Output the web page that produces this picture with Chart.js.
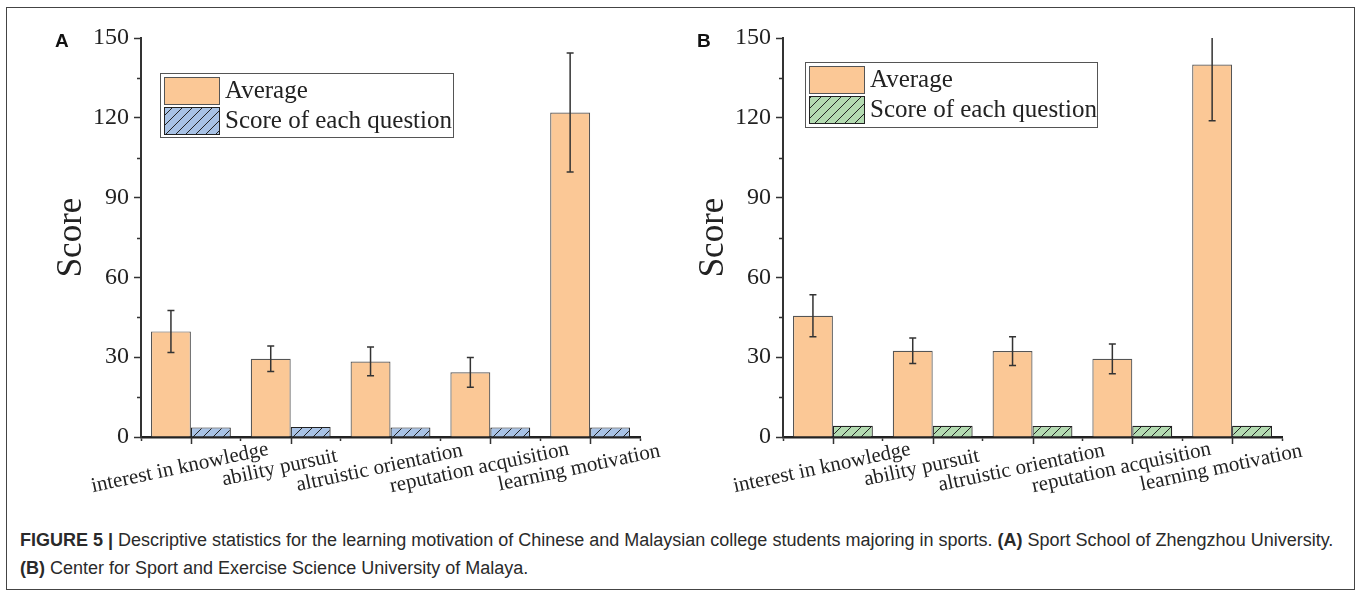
<!DOCTYPE html>
<html>
<head>
<meta charset="utf-8">
<script src="https://cdn.jsdelivr.net/npm/chart.js@4.4.1/dist/chart.umd.min.js"></script>
<style>
  body { margin: 0; background: #fff; width: 1357px; height: 592px; position: relative; overflow: hidden; }
  canvas { position: absolute; top: 0; }
  #chartA { left: 0; }
  #chartB { left: 678px; }
  .tag { position: absolute; top: 31px; font: bold 19px 'Liberation Sans', Arial, sans-serif; line-height: 1; color: #111; }
  #frame { position: absolute; left: 6px; top: 7px; width: 1347px; height: 581px; border: 1px solid #444; pointer-events: none; }
  .caption { position: absolute; left: 20px; font-family: 'Liberation Sans', Arial, sans-serif; font-size: 18px; line-height: 20px; color: #2a2a2a; white-space: nowrap; }
</style>
</head>
<body>
<canvas id="chartA" width="678" height="505"></canvas>
<canvas id="chartB" width="679" height="505"></canvas>
<div class="tag" style="left:55px">A</div>
<div class="tag" style="left:697px">B</div>
<div class="caption" style="top:530px"><b>FIGURE 5 |</b> Descriptive statistics for the learning motivation of Chinese and Malaysian college students majoring in sports. <b>(A)</b> Sport School of Zhengzhou University.</div>
<div class="caption" style="top:558px"><b>(B)</b> Center for Sport and Exercise Science University of Malaya.</div>
<div id="frame"></div>

<script>
const categories = ['interest in knowledge', 'ability pursuit', 'altruistic orientation', 'reputation acquisition', 'learning motivation']
const seriesNames = ['Average', 'Score of each question']
const yTickValues = [0, 30, 60, 90, 120, 150]

// panel A - Zhengzhou
const averageA = [39.7, 29.4, 28.4, 24.3, 122.0]
const errorA = [7.9, 4.8, 5.4, 5.6, 22.4]
const perQuestionA = [3.6, 3.8, 3.6, 3.6, 3.6]

// panel B - Malaya
const averageB = [45.6, 32.4, 32.3, 29.4, 140.0]
const errorB = [7.9, 4.8, 5.4, 5.6, 21.1]
const perQuestionB = [4.2, 4.2, 4.1, 4.2, 4.2]

const ORANGE = '#fbc896'
const BLUE = '#a8c2e5'
const GREEN = '#b3dbb1'
const INK = '#222'
const SERIF = "'Liberation Serif', 'Times New Roman', serif"

function hatch(bg) {
    const c = document.createElement('canvas')
    c.width = 10
    c.height = 10
    const g = c.getContext('2d')
    g.fillStyle = bg
    g.fillRect(0, 0, 10, 10)
    g.strokeStyle = '#222'
    g.lineWidth = 1
    g.beginPath()
    g.moveTo(-1, 11); g.lineTo(11, -1)
    g.moveTo(-6, 6); g.lineTo(6, -6)
    g.moveTo(4, 16); g.lineTo(16, 4)
    g.stroke()
    return g.createPattern(c, 'repeat')
}

const decor = {
    id: 'decor',
    afterDatasetsDraw(chart, args, o) {
        // error bars on the Average series
        const ctx = chart.ctx
        const y = chart.scales.y
        const ca = chart.chartArea
        ctx.save()
        ctx.beginPath()
        ctx.rect(ca.left, ca.top, ca.right - ca.left, ca.bottom - ca.top)
        ctx.clip()
        ctx.strokeStyle = '#333'
        ctx.lineWidth = 1.5
        chart.getDatasetMeta(0).data.forEach((bar, i) => {
            const v = chart.data.datasets[0].data[i]
            const e = o.errors[i]
            const top = y.getPixelForValue(v + e)
            const bot = y.getPixelForValue(v - e)
            ctx.beginPath()
            ctx.moveTo(bar.x, top); ctx.lineTo(bar.x, bot)
            ctx.moveTo(bar.x - 3.5, top); ctx.lineTo(bar.x + 3.5, top)
            ctx.moveTo(bar.x - 3.5, bot); ctx.lineTo(bar.x + 3.5, bot)
            ctx.stroke()
        })
        ctx.restore()
    },
    afterDraw(chart, args, o) {
        const ctx = chart.ctx
        const x = chart.scales.x
        const y = chart.scales.y
        const ca = chart.chartArea
        ctx.save()
        ctx.strokeStyle = '#333'
        ctx.lineWidth = 1.5
        ctx.beginPath()
        // minor y ticks
        for (let i = 0; i < yTickValues.length - 1; i++) {
            const py = Math.round(y.getPixelForValue((yTickValues[i] + yTickValues[i + 1]) / 2)) + 0.5
            ctx.moveTo(ca.left - 4, py); ctx.lineTo(ca.left, py)
        }
        // ticks at category centres
        categories.forEach((c, i) => {
            const px = Math.round(x.getPixelForValue(i)) + 0.5
            ctx.moveTo(px, ca.bottom); ctx.lineTo(px, ca.bottom + 7)
        })
        ctx.stroke()

        // slanted category labels
        ctx.fillStyle = INK
        ctx.font = '21px ' + SERIF
        ctx.textAlign = 'center'
        ctx.textBaseline = 'middle'
        categories.forEach((c, i) => {
            ctx.save()
            ctx.translate(x.getPixelForValue(i) - 11, ca.bottom + 31)
            ctx.rotate(-12 * Math.PI / 180)
            ctx.fillText(c, 0, 0)
            ctx.restore()
        })

        // legend box
        const L = o.legend
        const bx = ca.left + L.dx
        const by = ca.top + L.dy
        ctx.fillStyle = '#fff'
        ctx.fillRect(bx, by, L.w, L.h)
        ctx.strokeStyle = '#555'
        ctx.lineWidth = 1
        ctx.strokeRect(bx + 0.5, by + 0.5, L.w, L.h)
        ctx.font = '25px ' + SERIF
        ctx.textAlign = 'left'
        chart.data.datasets.forEach((ds, i) => {
            const sy = by + 4 + i * 30
            ctx.fillStyle = ds.backgroundColor
            ctx.fillRect(bx + 4, sy, 55, 27)
            ctx.strokeStyle = ds.borderColor
            ctx.strokeRect(bx + 4.5, sy + 0.5, 55, 27)
            ctx.fillStyle = INK
            ctx.fillText(ds.label, bx + 65, sy + 14)
        })
        ctx.restore()
    }
}

function makePanel(id, average, errors, perQuestion, questionColor, p) {
    return new Chart(document.getElementById(id), {
        type: 'bar',
        data: {
            labels: categories,
            datasets: [{
                label: seriesNames[0],
                data: average,
                backgroundColor: ORANGE,
                borderColor: '#555',
                borderWidth: 1.2,
                categoryPercentage: 0.8,
                barPercentage: 1
            }, {
                label: seriesNames[1],
                data: perQuestion,
                backgroundColor: hatch(questionColor),
                borderColor: '#222',
                borderWidth: 1.2,
                categoryPercentage: 0.8,
                barPercentage: 1
            }]
        },
        options: {
            responsive: false,
            animation: false,
            events: [],
            layout: { padding: { top: 38, right: p.right, left: 0, bottom: 0 } },
            plugins: {
                legend: { display: false },
                tooltip: { enabled: false },
                decor: { errors: errors, legend: p.legend }
            },
            scales: {
                x: {
                    z: 1,
                    grid: { offset: true, drawOnChartArea: false, tickLength: 4, tickWidth: 1.5, tickColor: '#333' },
                    border: { color: INK, width: 2.5 },
                    ticks: { display: false },
                    afterFit: s => { s.height = 68 }
                },
                y: {
                    z: 1,
                    min: 0,
                    max: 150,
                    afterBuildTicks: s => { s.ticks = yTickValues.map(v => ({ value: v })) },
                    grid: { drawOnChartArea: false, tickLength: 7, tickWidth: 1.5, tickColor: '#333' },
                    border: { color: '#333', width: 2 },
                    ticks: { color: INK, padding: 5, font: { family: SERIF, size: 24 } },
                    title: {
                        display: true,
                        text: 'Score',
                        color: INK,
                        font: { family: SERIF, size: 35 },
                        padding: { top: p.titlePad, bottom: 0 }
                    },
                    afterFit: s => { s.width = p.axisW }
                }
            }
        },
        plugins: [decor]
    })
}

makePanel('chartA', averageA, errorA, perQuestionA, BLUE, {
    axisW: 141, right: 38, titlePad: 51,
    legend: { dx: 19, dy: 35, w: 293, h: 64 }
})
makePanel('chartB', averageB, errorB, perQuestionB, GREEN, {
    axisW: 105, right: 75, titlePad: 15,
    legend: { dx: 22, dy: 24, w: 292, h: 65 }
})
</script>
</body>
</html>
